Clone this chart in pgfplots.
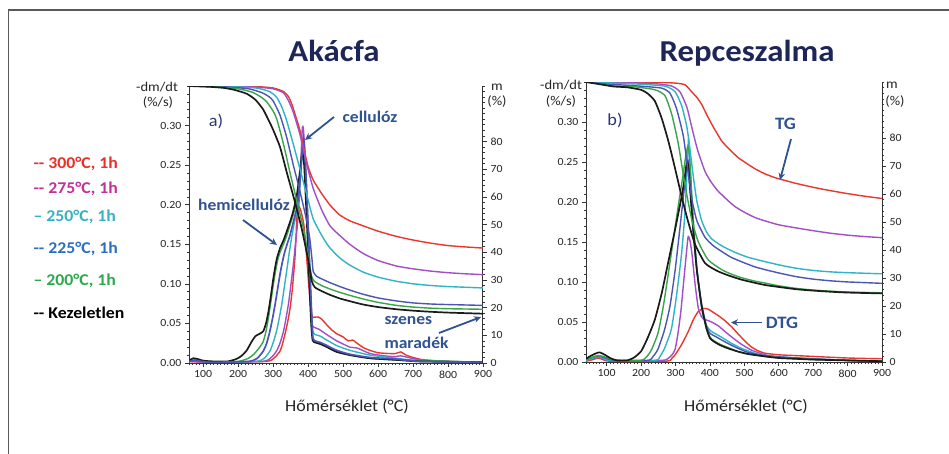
\documentclass[border=0pt]{standalone}
\usepackage{pgfplots}
\pgfplotsset{compat=1.18}
\usepackage{fontspec}
\setmainfont{Carlito}[FakeStretch=1.08]
\usetikzlibrary{arrows.meta}

\definecolor{cred}{HTML}{E8382E}
\definecolor{cpur}{HTML}{A24FC6}
\definecolor{cteal}{HTML}{2FB4C6}
\definecolor{cblue}{HTML}{4A55B4}
\definecolor{cgreen}{HTML}{3BA449}
\definecolor{cblack}{HTML}{1B1B1B}
\definecolor{lred}{HTML}{E8302A}
\definecolor{lmag}{HTML}{C2309A}
\definecolor{lteal}{HTML}{38B2C2}
\definecolor{lblue}{HTML}{2C6FBF}
\definecolor{lgreen}{HTML}{2DA84C}
\definecolor{annot}{HTML}{2F5290}
\definecolor{titlec}{HTML}{1E2657}
\definecolor{labc}{HTML}{2B3670}
\definecolor{framec}{HTML}{5A5A5A}

\pgfplotsset{
  base/.style={scale only axis, xmax=900, tick align=outside,
    major tick length=4bp, minor tick length=2.2bp,
    every tick/.style={line width=0.6bp, draw=black!80},
    axis line style={line width=1bp, draw=black!80},
    tick label style={font=\fontsize{11}{12}\selectfont, text=black!85},
    /pgf/number format/assume math mode=true},
  dtg/.style={base, ymin=0, ymax=0.35, axis x line*=bottom, axis y line*=left,
    xtick={100,200,...,900},
    ytick={0,0.05,0.1,0.15,0.2,0.25,0.3}, minor ytick={0,0.01,...,0.35},
    yticklabel style={/pgf/number format/fixed, /pgf/number format/fixed zerofill,
      /pgf/number format/precision=2}},
  tg/.style={base, ymin=0, ymax=100, axis x line=none, axis y line*=right,
    xtick=\empty, ytick={0,10,...,80}, minor ytick={0,2,...,100}},
  every axis plot/.append style={line width=1.4bp, smooth, tension=0.35},
}

\begin{document}
\begin{tikzpicture}
\path[use as bounding box] (0,0) rectangle (949bp,-454bp);
\fill[white] (0,0) rectangle (949bp,-454bp);
\draw[framec, line width=1.8bp] (8.5bp,-454bp) -- (8.5bp,-10bp) -- (949bp,-10bp);

% ---------- a) Akacfa : DTG ----------
\begin{axis}[dtg, at={(189bp,-363bp)}, anchor=south west, width=294bp, height=277bp,
  xmin=60, minor xtick={60,70,...,900}]
\addplot[cred] coordinates {(60,0.002)(120,0.001)(280,0.002)(305,0.007)(320,0.015)(327,0.024)(334,0.036)(342,0.052)(349,0.07)(354,0.088)(358,0.107)(363,0.135)(366,0.16)(368,0.185)(371,0.198)(378,0.195)(388,0.175)(395,0.14)(402,0.1)(408,0.068)(413,0.058)(420,0.058)(430,0.058)(440,0.055)(450,0.05)(465,0.043)(482,0.037)(500,0.033)(515,0.028)(528,0.029)(540,0.025)(560,0.019)(577,0.016)(600,0.013)(630,0.012)(650,0.012)(665,0.014)(680,0.01)(700,0.007)(730,0.004)(800,0.002)(900,0.001)};
\addplot[cpur] coordinates {(60,0.002)(120,0.001)(270,0.002)(295,0.007)(310,0.015)(320,0.025)(330,0.04)(337,0.056)(344,0.074)(351,0.098)(358,0.124)(364,0.15)(369,0.171)(374,0.2)(378,0.235)(381,0.27)(384,0.298)(387,0.295)(392,0.26)(397,0.205)(402,0.15)(407,0.095)(412,0.05)(418,0.045)(430,0.043)(450,0.037)(482,0.028)(520,0.02)(540,0.019)(577,0.012)(620,0.009)(650,0.008)(665,0.009)(720,0.004)(800,0.002)(900,0.001)};
\addplot[cteal] coordinates {(60,0.002)(80,0.003)(120,0.001)(250,0.002)(275,0.006)(291,0.015)(300,0.025)(310,0.04)(318,0.057)(325,0.074)(332,0.095)(339,0.116)(346,0.138)(353,0.158)(360,0.175)(368,0.192)(374,0.212)(378,0.235)(382,0.258)(385,0.27)(390,0.255)(395,0.215)(400,0.165)(405,0.11)(410,0.06)(414,0.04)(420,0.036)(435,0.034)(450,0.03)(482,0.022)(520,0.016)(577,0.01)(650,0.006)(720,0.003)(900,0.001)};
\addplot[cgreen] coordinates {(60,0.002)(75,0.004)(90,0.003)(120,0.001)(200,0.002)(230,0.006)(245,0.011)(253,0.015)(262,0.02)(272,0.027)(280,0.04)(287,0.057)(294,0.078)(301,0.099)(308,0.118)(315,0.133)(322,0.142)(330,0.15)(340,0.162)(349,0.175)(358,0.188)(368,0.205)(375,0.228)(380,0.25)(385,0.272)(390,0.255)(395,0.21)(400,0.16)(405,0.105)(410,0.052)(414,0.03)(420,0.027)(435,0.025)(450,0.022)(482,0.015)(520,0.01)(577,0.006)(650,0.004)(900,0.001)};
\addplot[cblack, line width=1.7bp] coordinates {(60,0.003)(72,0.006)(85,0.005)(100,0.003)(130,0.002)(170,0.002)(195,0.005)(210,0.009)(225,0.016)(239,0.027)(250,0.034)(262,0.037)(272,0.04)(280,0.05)(287,0.065)(294,0.085)(301,0.107)(310,0.13)(320,0.145)(330,0.155)(339,0.166)(350,0.18)(358,0.192)(368,0.212)(375,0.235)(380,0.255)(384,0.266)(389,0.25)(394,0.205)(399,0.155)(404,0.1)(409,0.05)(413,0.029)(420,0.026)(435,0.024)(450,0.021)(482,0.014)(520,0.01)(577,0.006)(650,0.004)(720,0.002)(900,0.001)};
\addplot[cblue, line width=1.7bp] coordinates {(60,0.002)(80,0.003)(120,0.001)(230,0.002)(255,0.006)(272,0.015)(282,0.025)(291,0.04)(299,0.057)(306,0.074)(313,0.093)(320,0.112)(327,0.128)(334,0.141)(341,0.151)(349,0.162)(358,0.178)(368,0.196)(374,0.215)(379,0.24)(383,0.265)(387,0.284)(391,0.265)(396,0.22)(401,0.165)(406,0.11)(411,0.055)(414,0.032)(420,0.028)(435,0.026)(450,0.023)(482,0.016)(520,0.011)(577,0.007)(650,0.005)(720,0.002)(900,0.001)};
\end{axis}

% ---------- a) Akacfa : TG ----------
\begin{axis}[tg, at={(189bp,-363bp)}, anchor=south west, width=294bp, height=277bp, xmin=60]
\addplot[cred] coordinates {(60,100)(150,100)(250,99.8)(300,99.3)(330,98)(345,96)(355,93)(365,89)(377,84)(390,76.5)(400,71)(415,66)(440,61)(463,57)(490,53.5)(520,51.3)(558,49.5)(600,47.6)(653,45.7)(700,44.4)(749,43.3)(800,42.4)(850,41.9)(900,41.5)};
\addplot[cpur] coordinates {(60,100)(150,100)(250,99.6)(300,99)(330,97.5)(345,94.5)(358,90.5)(377,82.5)(396,72)(415,63)(440,55)(463,49.5)(491,46)(520,42.8)(558,39.5)(600,37)(653,35)(700,34)(749,33.2)(800,32.6)(850,32.2)(900,31.9)};
\addplot[cteal] coordinates {(60,100)(150,99.9)(250,99.3)(290,98)(310,96)(325,92.5)(339,87.5)(358,79)(377,70)(396,61)(415,52)(444,45)(463,41.5)(491,37.9)(520,35.3)(558,32.8)(600,31)(653,29.5)(700,28.6)(749,28)(800,27.6)(900,27.1)};
\addplot[cblue] coordinates {(60,100)(150,99.8)(230,99)(270,97.5)(290,96)(301,94.5)(320,89.5)(339,81.5)(358,71.5)(377,62)(396,51.5)(405,45)(411,38)(415,33)(425,31.3)(440,30.3)(463,29)(491,27.6)(520,26.3)(558,24.8)(600,23.5)(653,22.4)(700,21.7)(750,21.3)(800,21.1)(900,20.8)};
\addplot[cgreen] coordinates {(60,100)(150,99.6)(200,99)(240,97.8)(266,96)(282,94.3)(300,91)(311,88)(330,79)(349,68.5)(368,58.5)(387,48.5)(401,38.5)(410,31.5)(418,29.5)(440,27.9)(463,26.7)(491,25.5)(520,24.4)(558,23.1)(600,21.9)(653,20.8)(700,20.2)(750,19.8)(800,19.6)(900,19.4)};
\addplot[cblack, line width=1.7bp] coordinates {(60,100)(120,99.7)(160,99.3)(190,98.6)(225,97.2)(250,95)(272,91.5)(290,87)(301,84)(320,78)(339,69)(363,58)(382,48.5)(401,37)(411,29.5)(420,27.3)(440,25.9)(463,24.6)(491,23.3)(520,22.3)(558,21.1)(600,20.2)(653,19.4)(700,18.9)(750,18.5)(800,18.2)(900,17.8)};
\end{axis}

% ---------- b) Repceszalma : DTG ----------
\begin{axis}[dtg, at={(586bp,-362bp)}, anchor=south west, width=296bp, height=280bp,
  xmin=40, minor xtick={40,50,...,900}]
\addplot[cred] coordinates {(40,0.001)(60,0.003)(75,0.005)(90,0.003)(110,0.001)(273,0.001)(290,0.005)(299,0.009)(318,0.022)(337,0.038)(352,0.053)(366,0.063)(381,0.067)(395,0.066)(410,0.062)(424,0.058)(440,0.053)(463,0.044)(480,0.036)(502,0.026)(520,0.019)(540,0.014)(560,0.011)(600,0.009)(650,0.008)(700,0.007)(800,0.005)(900,0.004)};
\addplot[cpur] coordinates {(40,0.002)(60,0.004)(75,0.006)(90,0.004)(110,0.002)(260,0.002)(280,0.005)(290,0.009)(299,0.016)(308,0.038)(316,0.065)(323,0.097)(333,0.142)(337,0.157)(342,0.152)(347,0.138)(352,0.118)(357,0.097)(366,0.068)(375,0.057)(381,0.054)(405,0.05)(425,0.045)(444,0.038)(470,0.029)(492,0.022)(520,0.015)(560,0.009)(600,0.006)(650,0.005)(800,0.002)(900,0.001)};
\addplot[cteal] coordinates {(40,0.002)(60,0.005)(75,0.007)(90,0.005)(110,0.002)(240,0.002)(255,0.007)(268,0.017)(288,0.041)(303,0.083)(318,0.137)(328,0.19)(334,0.243)(338,0.279)(342,0.25)(346,0.215)(352,0.175)(356,0.148)(362,0.118)(371,0.083)(380,0.058)(392,0.044)(405,0.038)(434,0.031)(460,0.024)(492,0.017)(530,0.011)(560,0.008)(650,0.005)(800,0.002)(900,0.001)};
\addplot[cblue] coordinates {(40,0.003)(60,0.006)(75,0.008)(90,0.006)(110,0.003)(130,0.002)(220,0.002)(235,0.007)(249,0.016)(268,0.04)(284,0.07)(299,0.115)(312,0.164)(325,0.215)(334,0.25)(338,0.25)(342,0.225)(347,0.19)(352,0.16)(362,0.115)(376,0.072)(390,0.045)(400,0.036)(420,0.031)(453,0.023)(482,0.017)(511,0.012)(560,0.008)(650,0.005)(800,0.002)(900,0.001)};
\addplot[cgreen] coordinates {(40,0.003)(60,0.006)(75,0.008)(90,0.007)(110,0.004)(130,0.002)(200,0.002)(215,0.006)(230,0.015)(249,0.036)(264,0.068)(279,0.11)(294,0.154)(308,0.195)(322,0.234)(330,0.258)(336,0.27)(340,0.262)(344,0.235)(349,0.195)(355,0.155)(362,0.115)(376,0.07)(390,0.042)(400,0.031)(410,0.027)(430,0.022)(453,0.018)(482,0.013)(511,0.01)(560,0.007)(650,0.004)(800,0.002)(900,0.001)};
\addplot[cblack, line width=1.7bp] coordinates {(40,0.004)(55,0.008)(70,0.011)(80,0.012)(95,0.009)(110,0.005)(130,0.002)(160,0.002)(181,0.006)(201,0.014)(220,0.031)(240,0.053)(260,0.086)(279,0.125)(299,0.166)(318,0.207)(326,0.228)(333,0.25)(337,0.245)(342,0.218)(347,0.19)(352,0.163)(362,0.115)(376,0.07)(390,0.042)(400,0.03)(410,0.026)(430,0.021)(453,0.017)(482,0.013)(511,0.01)(560,0.007)(600,0.005)(650,0.004)(700,0.003)(800,0.002)(900,0.001)};
\end{axis}

% ---------- b) Repceszalma : TG ----------
\begin{axis}[tg, at={(586bp,-362bp)}, anchor=south west, width=296bp, height=280bp, xmin=40]
\addplot[cred] coordinates {(40,100)(150,100)(250,99.9)(300,99.6)(328,99)(347,96.5)(362,94.5)(376,92)(390,88.5)(405,85)(420,81.8)(434,79)(452,76.5)(482,73)(506,71)(531,69)(560,67.2)(590,65.8)(613,65)(650,63.8)(700,62.4)(750,61.2)(797,60.2)(850,59.2)(900,58.4)};
\addplot[cpur] coordinates {(40,100)(150,99.8)(250,99.3)(290,98.5)(313,96.5)(333,91)(347,84)(356,79.5)(366,75)(386,68)(405,64)(424,61)(452,57.7)(473,55.5)(500,53.5)(531,51.6)(560,50.4)(600,49)(650,47.9)(700,46.9)(750,46)(800,45.3)(850,44.8)(900,44.4)};
\addplot[cteal] coordinates {(40,100)(100,99.7)(200,99.2)(270,98.5)(299,96.5)(318,91.5)(333,84)(342,76)(352,66)(362,57.5)(376,50.5)(390,46.5)(405,44)(430,41.8)(453,40.3)(480,38.8)(511,37.4)(555,36)(600,34.7)(650,33.5)(700,32.7)(750,32.2)(800,31.9)(900,31.5)};
\addplot[cblue] coordinates {(40,100)(100,99.3)(200,98.5)(260,97.8)(284,96)(303,90.5)(323,80.5)(337,67.5)(347,58.5)(362,50.5)(386,44.5)(410,41.5)(434,39.5)(460,37.5)(492,35.8)(530,34)(560,33)(600,31.8)(650,30.5)(700,29.6)(750,29)(800,28.6)(900,28.1)};
\addplot[cgreen] coordinates {(40,100)(80,99.3)(120,98.6)(180,98.3)(230,97.5)(250,96.8)(270,95)(289,88.5)(308,78)(328,63)(347,51)(366,43)(395,36.5)(434,33)(460,31.5)(492,30.1)(530,28.9)(560,28.2)(600,27.2)(650,26.3)(700,25.7)(750,25.3)(800,25)(900,24.7)};
\addplot[cblack, line width=1.7bp] coordinates {(40,100)(80,99.2)(120,98.4)(160,98.1)(200,97.2)(220,95.8)(240,93.2)(260,87)(279,79)(299,69)(318,59)(337,50)(357,42)(386,35.3)(420,32.6)(452,31)(492,29.4)(530,28.3)(560,27.5)(600,26.8)(650,26)(700,25.5)(750,25.1)(800,24.8)(900,24.5)};
\end{axis}

% ---------- titles and axis labels ----------
\node[anchor=base, text=titlec, font=\fontsize{30.5}{32}\selectfont\bfseries] at (334bp,-61.5bp) {Akácfa};
\node[anchor=base, text=titlec, font=\fontsize{30.5}{32}\selectfont\bfseries] at (747bp,-61.5bp) {Repceszalma};
\begin{scope}[every node/.style={font=\fontsize{16.7}{18}\selectfont, text=black!85, anchor=base}]
\node at (347bp,-411bp) {Hőmérséklet (°C)};
\node at (746bp,-411bp) {Hőmérséklet (°C)};
\end{scope}
\begin{scope}[every node/.style={font=\fontsize{13.5}{15}\selectfont, text=black!85}]
\node at (157bp,-87bp) {-dm/dt};
\node at (158bp,-103bp) {(\%/s)};
\node at (497bp,-87bp) {m};
\node at (497bp,-102bp) {(\%)};
\node at (561bp,-85bp) {-dm/dt};
\node at (561bp,-101.5bp) {(\%/s)};
\node at (892bp,-85bp) {m};
\node at (895bp,-102bp) {(\%)};
\end{scope}

% ---------- panel letters and annotations ----------
\node[text=labc, font=\fontsize{17}{19}\selectfont] at (216bp,-121bp) {a)};
\node[text=labc, font=\fontsize{17}{19}\selectfont] at (615bp,-120bp) {b)};
\begin{scope}[every node/.style={text=annot, font=\fontsize{16.3}{18}\selectfont\bfseries},
  arr/.style={draw=annot, line width=1.8bp, -{Stealth[length=7bp,width=6.5bp]}}]
\node at (370bp,-116.5bp) {cellulóz};
\draw[arr] (334bp,-117bp) -- (305bp,-140bp);
\node at (244bp,-204.5bp) {hemicellulóz};
\draw[arr] (243bp,-220bp) -- (277bp,-245bp);
\node[anchor=west] at (381bp,-321bp) {szenes};
\node[anchor=west] at (381bp,-343bp) {maradék};
\draw[arr] (439bp,-333bp) -- (481bp,-317bp);
\node[font=\fontsize{17.5}{19}\selectfont\bfseries] at (785.5bp,-124bp) {TG};
\draw[arr] (791bp,-139bp) -- (780bp,-180bp);
\node[font=\fontsize{17.5}{19}\selectfont\bfseries] at (782bp,-322.5bp) {DTG};
\draw[arr] (762bp,-322.5bp) -- (731bp,-322.5bp);
\end{scope}

% ---------- legend ----------
\begin{scope}[every node/.style={anchor=west, font=\fontsize{16.5}{18}\selectfont\bfseries}]
\node[text=lred] at (30bp,-163.5bp) {-{}- 300°C, 1h};
\node[text=lmag] at (30bp,-188.5bp) {-{}- 275°C, 1h};
\node[text=lteal] at (30bp,-217bp) {– 250°C, 1h};
\node[text=lblue] at (30bp,-248.5bp) {-{}- 225°C, 1h};
\node[text=lgreen] at (30bp,-281bp) {– 200°C, 1h};
\node[text=black] at (30bp,-313bp) {-{}- Kezeletlen};
\end{scope}
\end{tikzpicture}
\end{document}
